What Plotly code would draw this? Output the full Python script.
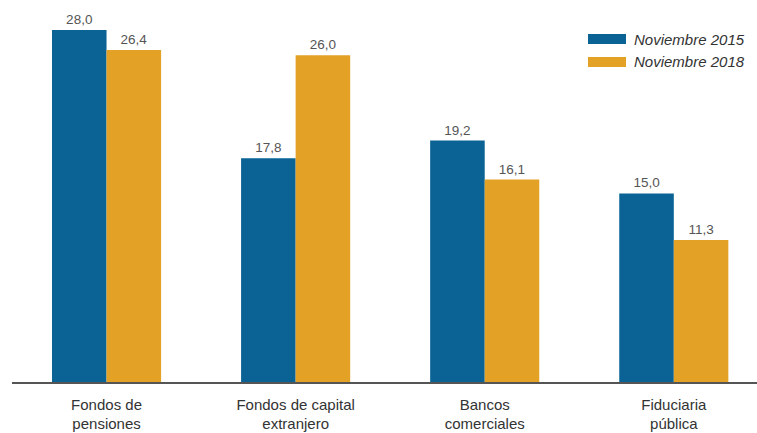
import plotly.graph_objects as go

categories = ["Fondos de<br>pensiones", "Fondos de capital<br>extranjero", "Bancos<br>comerciales", "Fiduciaria<br>pública"]
series_names = ["Noviembre 2015", "Noviembre 2018"]
values_2015 = [28.0, 17.8, 19.2, 15.0]
values_2018 = [26.4, 26.0, 16.1, 11.3]
colors = ["#0a6394", "#e3a126"]

fig = go.Figure()
for name, vals, col in zip(series_names, [values_2015, values_2018], colors):
    fig.add_trace(go.Bar(
        x=categories, y=vals, name=name, marker_color=col, marker_line_width=0,
        texttemplate="%{y:.1f}", textposition="outside",
        textfont=dict(family="Liberation Sans, Arial", size=13.5, color="#555555"),
        cliponaxis=False,
    ))

fig.update_layout(
    width=757, height=433,
    margin=dict(l=12, r=0, t=10, b=51),
    paper_bgcolor="white", plot_bgcolor="white",
    barmode="group", bargap=0.423, bargroupgap=0,
    separators=",.",
    showlegend=False,
    xaxis=dict(range=[-0.5, 3.44], showgrid=False, ticks="", showline=True,
               linecolor="#555555", linewidth=1.5, ticklabelstandoff=8,
               automargin=False,
               tickfont=dict(family="Liberation Sans, Arial", size=15, color="#333333")),
    yaxis=dict(range=[0, 29.59], visible=False),
)

# legend drawn as wide swatches with italic labels
for i, (name, col) in enumerate(zip(series_names, colors)):
    yc = 39 + 23 * i
    fig.add_shape(type="rect", xref="paper", yref="paper",
                  x0=(588 - 12) / 745, x1=(626 - 12) / 745,
                  y0=(433 - 51 - (yc + 5)) / 372, y1=(433 - 51 - (yc - 5)) / 372,
                  fillcolor=col, line_width=0)
    fig.add_annotation(xref="paper", yref="paper", x=(632 - 12) / 745,
                       y=(433 - 51 - yc) / 372, text="<i>" + name + "</i>", showarrow=False,
                       xanchor="left", yanchor="middle",
                       font=dict(family="Liberation Sans, Arial", size=15, color="#333333"))

fig.write_html("out.html")
